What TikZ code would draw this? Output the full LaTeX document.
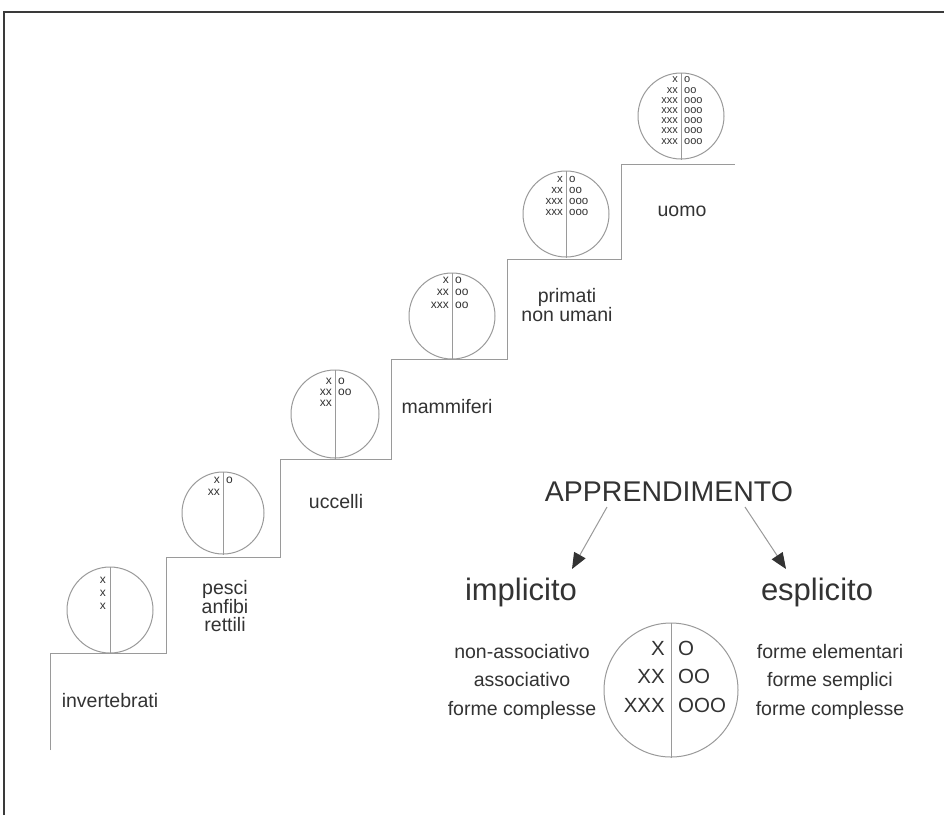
\documentclass[tikz,border=0pt]{standalone}
\usepackage{fontspec}
\setmainfont{Liberation Sans}
\usetikzlibrary{arrows.meta}
\definecolor{ln}{HTML}{9A9A9A}
\definecolor{tx}{HTML}{333333}
\definecolor{fr}{HTML}{3A3A3A}
\begin{document}
\begin{tikzpicture}[x=1pt,y=-1pt,
  stair/.style={draw=ln, line width=1pt},
  circ/.style={circle, draw=ln, line width=1pt, inner sep=0, minimum size=#1},
  split/.style={draw=ln, line width=1pt},
  lab/.style={text=tx, font=\fontsize{19.5}{18}\selectfont, align=center, inner sep=0},
  big/.style={text=tx, font=\fontsize{31}{31}\selectfont, inner sep=0},
  title/.style={text=tx, font=\fontsize{28.5}{28}\selectfont, inner sep=0},
  xs/.style={text=tx, anchor=base east, align=right, inner sep=0},
  os/.style={text=tx, anchor=base west, align=left, inner sep=0},
  arr/.style={draw=ln, line width=1pt, -{Triangle[length=16pt,width=13pt,color=tx]}}
]
\useasboundingbox (0,0) rectangle (944,815);
\fill[white] (0,0) rectangle (944,815);
% frame
\draw[fr, line width=1.6pt] (4,815) -- (4,12) -- (944,12);
% staircase
\draw[stair] (50,750) -- (50,653) -- (166,653) -- (166,557) -- (280,557) -- (280,459)
  -- (391,459) -- (391,359) -- (507,359) -- (507,259) -- (621,259) -- (621,164) -- (735,164);

% circles on steps (text nodes: anchor = baseline of the last line)
\node[circ=86pt] (c1) at (110,610) {};
\draw[split] (c1.north) -- (c1.south);
\node[xs, font=\fontsize{12}{13}\selectfont] (c1x) at (106,609) {x\\x\\x};

\node[circ=82pt] (c2) at (223,513) {};
\draw[split] (c2.north) -- (c2.south);
\node[xs, font=\fontsize{12}{12}\selectfont] (c2x) at (220,495) {x\\xx};
\node[os, font=\fontsize{12}{12}\selectfont] (c2o) at (226,483) {o};

\node[circ=88pt] (c3) at (335,414) {};
\draw[split] (c3.north) -- (c3.south);
\node[xs, font=\fontsize{12}{11}\selectfont] (c3x) at (332,406) {x\\xx\\xx};
\node[os, font=\fontsize{12}{11}\selectfont] (c3o) at (338,395) {o\\oo};

\node[circ=86pt] (c4) at (452,316) {};
\draw[split] (c4.north) -- (c4.south);
\node[xs, font=\fontsize{12}{12.8}\selectfont] (c4x) at (449,308.6) {x\\xx\\xxx};
\node[os, font=\fontsize{12}{12.8}\selectfont] (c4o) at (455,308.6) {o\\oo\\oo};

\node[circ=86pt] (c5) at (566,214) {};
\draw[split] (c5.north) -- (c5.south);
\node[xs, font=\fontsize{11.5}{10.7}\selectfont] (c5x) at (563,215) {x\\xx\\xxx\\xxx};
\node[os, font=\fontsize{11.5}{10.7}\selectfont] (c5o) at (569,215) {o\\oo\\ooo\\ooo};

\node[circ=86pt] (c6) at (681,116) {};
\draw[split] (c6.north) -- (c6.south);
\node[xs, font=\fontsize{11}{10.2}\selectfont] (c6x) at (678,144) {x\\xx\\xxx\\xxx\\xxx\\xxx\\xxx};
\node[os, font=\fontsize{11}{10.2}\selectfont] (c6o) at (684,144) {o\\oo\\ooo\\ooo\\ooo\\ooo\\ooo};

% step labels
\node[lab] (l1) at (110,701) {invertebrati};
\node[lab] (l2) at (225,606) {pesci\\anfibi\\rettili};
\node[lab] (l3) at (336,502) {uccelli};
\node[lab] (l4) at (447,407) {mammiferi};
\node[lab] (l5) at (567,305) {primati\\non umani};
\node[lab] (l6) at (682,211) {uomo};

% learning part
\node[title] (app) at (669,492) {APPRENDIMENTO};
\node[big] (imp) at (521,592) {implicito};
\node[big] (esp) at (817,592) {esplicito};
\coordinate (a1) at (607,507);
\coordinate (a1e) at (572,569);
\coordinate (a2) at (745,507);
\coordinate (a2e) at (786,569);
\draw[arr] (a1) -- (a1e);
\draw[arr] (a2) -- (a2e);

\node[circ=134pt] (bc) at (671,690) {};
\draw[split] (bc.north) -- (bc.south);
\node[xs, font=\fontsize{20.5}{28.5}\selectfont] (bcx) at (665,712) {X\\XX\\XXX};
\node[os, font=\fontsize{20.5}{28.5}\selectfont] (bco) at (678,712) {O\\OO\\OOO};

\node[lab, anchor=base, font=\fontsize{19.5}{28.5}\selectfont] (il) at (522,715) {non-associativo\\associativo\\forme complesse};
\node[lab, anchor=base, font=\fontsize{19.5}{28.5}\selectfont] (el) at (830,715) {forme elementari\\forme semplici\\forme complesse};
\end{tikzpicture}
\end{document}
